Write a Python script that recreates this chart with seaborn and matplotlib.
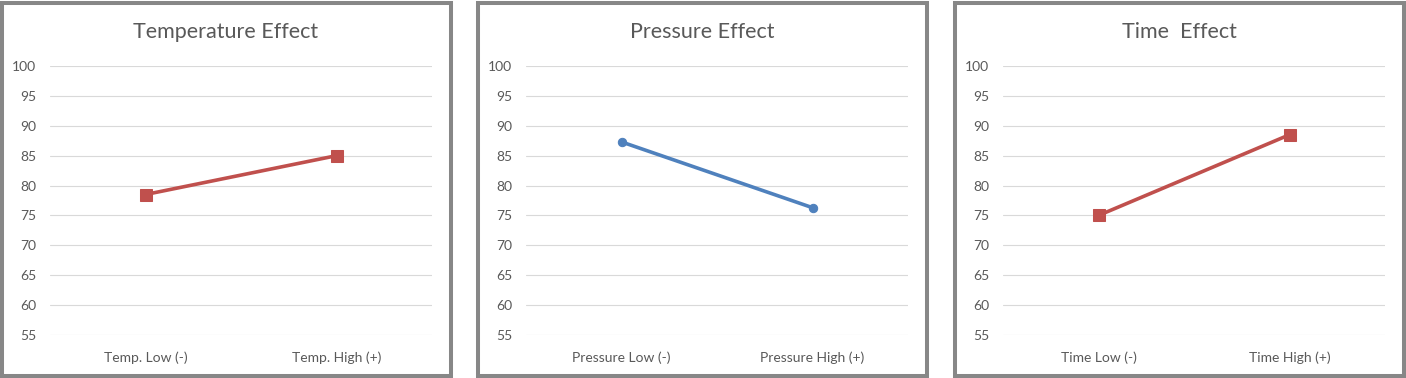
import seaborn as sns
import pandas as pd
import matplotlib.pyplot as plt
from matplotlib.patches import Rectangle

# chart data
titles = ["Temperature Effect", "Pressure Effect", "Time  Effect"]
temp_levels = ["Temp. Low (-)", "Temp. High (+)"]
temp_values = [78.5, 85.0]
pressure_levels = ["Pressure Low (-)", "Pressure High (+)"]
pressure_values = [87.3, 76.3]
time_levels = ["Time Low (-)", "Time High (+)"]
time_values = [75.0, 88.5]
y_ticks = [55, 60, 65, 70, 75, 80, 85, 90, 95, 100]

RED = "#C0504D"
BLUE = "#4F81BD"
TEXT = "#595959"


def draw_panel(fig, left_px, title, levels, values, color, marker, msize):
    W, H = 1406, 378
    # panel frame
    fig.patches.append(Rectangle((left_px / W + 2 / W, 2 / H), 449 / W, 373 / H,
                                 transform=fig.transFigure, fill=False,
                                 edgecolor="#878787", linewidth=2.9))
    ax = fig.add_axes([(left_px + 50) / W, 1 - 335 / H, 382 / W, 269 / H])
    df = pd.DataFrame({"level": levels, "value": values})
    sns.lineplot(x="level", y="value", data=df, ax=ax, color=color,
                 linewidth=2.6, marker=marker, markersize=msize,
                 markeredgecolor=color, markerfacecolor=color)
    ax.set_xlim(-0.5, 1.5)
    ax.set_ylim(55, 100)
    ax.set_yticks(y_ticks)
    ax.grid(axis="y", color="#D9D9D9", linewidth=0.8)
    ax.grid(axis="x", visible=False)
    ax.set_axisbelow(True)
    for s in ax.spines.values():
        s.set_visible(False)
    ax.tick_params(length=0, colors=TEXT, labelsize=10)
    ax.tick_params(axis="x", pad=11.5)
    ax.tick_params(axis="y", pad=10)
    ax.set_xlabel("")
    ax.set_ylabel("")
    fig.text((left_px + 226) / W, 1 - 32 / H, title, ha="center", va="center",
             fontsize=15.5, color=TEXT)
    return ax


def main():
    sns.set_style("white")
    plt.rcParams["font.family"] = ["Lato", "DejaVu Sans"]
    fig = plt.figure(figsize=(14.06, 3.78), dpi=100)
    draw_panel(fig, 0, titles[0], temp_levels, temp_values, RED, "s", 9)
    draw_panel(fig, 476, titles[1], pressure_levels, pressure_values, BLUE, "o", 6)
    draw_panel(fig, 953, titles[2], time_levels, time_values, RED, "s", 9)
    fig.savefig("out.png", dpi=100)


if __name__ == "__main__":
    main()
